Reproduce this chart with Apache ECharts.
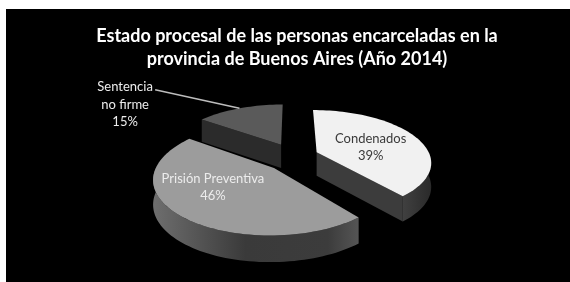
<!DOCTYPE html>
<html><head><meta charset="utf-8">
<script src="https://cdn.jsdelivr.net/npm/echarts@6/dist/echarts.min.js"></script>
<style>html,body{margin:0;padding:0;background:#fff}#c{width:570px;height:282px}</style>
</head><body><div id="c"></div>
<script>
// ---- data ----
const categories = ['Condenados', 'Prisión Preventiva', 'Sentencia\nno firme'];
const values = [39, 46, 15];
const titleLines = ['Estado procesal de las personas encarceladas en la', 'provincia de Buenos Aires (Año 2014)'];

// ---- layout / style ----
const FONT = 'Lato, "Open Sans", sans-serif';
const geo = {cx: 292.5, cy: 156.9, rx: 117, ry: 54, ex: 26.8, ey: 15.3, depth: 24, pcx: 292, pcy: 165, L: 300};
const sliceStyle = [
  {top: '#f1f1f1', wall: '#3c3c3c', arc: [[0, '#404040'], [1, '#2a2a2a']], text: '#3a3a3a', label: [54, -5]},
  {top: '#9c9c9c', wall: '#3a3a3a', arc: [[0, '#6e6e6e'], [0.45, '#3a3a3a'], [0.85, '#3c3c3c'], [1, '#555555']], text: '#ececec', label: [-61, 19]},
  {top: '#5a5a5a', wall: '#2b2b2b', arc: [[0, '#333'], [1, '#2b2b2b']], text: '#ececec', label: [-156, -40], leader: [30, -15]}
];

const total = values.reduce((a, b) => a + b, 0);
const starts = [];
{ let acc = 0; values.forEach(v => { starts.push(acc / total * 360); acc += v; }); }
const rad = d => d * Math.PI / 180;
// perspective: returns screen point; drop adds the wall height below it
function proj(x, y, drop) {
  const t = y - geo.pcy; const s = geo.L / (geo.L - t);
  return [geo.pcx + (x - geo.pcx) * s, geo.pcy + t * s + (drop ? geo.depth * Math.sqrt(s) : 0)];
}
function apexOf(i) {
  const a0 = starts[i], a1 = a0 + values[i] / total * 360, m = rad((a0 + a1) / 2);
  return [geo.cx + geo.ex * Math.sin(m), geo.cy - geo.ey * Math.cos(m)];
}
function ptOn(ap, deg, drop) {
  const r = rad(deg);
  return proj(ap[0] + geo.rx * Math.sin(r), ap[1] - geo.ry * Math.cos(r), drop);
}
function arcPts(ap, lo, hi, drop) {
  const pts = []; const n = Math.max(2, Math.ceil((hi - lo) / 2));
  for (let k = 0; k <= n; k++) pts.push(ptOn(ap, lo + (hi - lo) * k / n, drop));
  return pts;
}

function renderItem(params, api) {
  const i = params.dataIndex;
  const v = api.value(0);
  const a0 = starts[i], a1 = a0 + v / total * 360, mid = (a0 + a1) / 2;
  const ap = apexOf(i);
  const order = values.map((_, k) => k).sort((p, q) => apexOf(p)[1] - apexOf(q)[1]);
  const z = order.indexOf(i) * 10;
  const st = sliceStyle[i];
  const A = proj(ap[0], ap[1]), Ab = proj(ap[0], ap[1], true);
  const children = [];
  [[a0, a0 - 90], [a1, a1 + 90]].forEach(([ang, nrm]) => {
    if (Math.cos(rad(nrm)) < 0) {
      children.push({type: 'polygon', z2: z + 1,
        shape: {points: [A, ptOn(ap, ang), ptOn(ap, ang, true), Ab]},
        style: {fill: st.wall}});
    }
  });
  const lo = Math.max(a0, 90), hi = Math.min(a1, 270);
  if (hi > lo) {
    const topP = arcPts(ap, lo, hi, false), botP = arcPts(ap, lo, hi, true).reverse();
    children.push({type: 'polygon', z2: z + 2,
      shape: {points: topP.concat(botP)},
      style: {fill: {type: 'linear', x: 0, y: 0, x2: 1, y2: 0,
        colorStops: st.arc.map(c => ({offset: c[0], color: c[1]}))}}});
  }
  children.push({type: 'polygon', z2: z + 3,
    shape: {points: [A].concat(arcPts(ap, a0, a1, false))},
    style: {fill: st.top}});
  const pct = Math.round(v / total * 100) + '%';
  const lx = A[0] + st.label[0], ly = A[1] + st.label[1];
  children.push({type: 'text', z2: 100,
    style: {text: api.value(1) + '\n' + pct, x: lx, y: ly, fill: st.text,
      font: '13px ' + FONT, align: 'center', verticalAlign: 'middle', lineHeight: 17.5}});
  if (st.leader) {
    const P = ptOn(ap, mid);
    children.push({type: 'polyline', z2: 99,
      shape: {points: [[lx + st.leader[0], ly + st.leader[1]], P]},
      style: {stroke: '#bdbdbd', lineWidth: 1.5, fill: null}});
  }
  return {type: 'group', children};
}

const chart = echarts.init(document.getElementById('c'), null, {renderer: 'canvas'});
chart.setOption({
  backgroundColor: '#ffffff',
  animation: false,
  graphic: [{type: 'rect', z: -10, silent: true, shape: {x: 6, y: 9, width: 564, height: 273}, style: {fill: '#000'}}],
  title: {text: titleLines.join('\n'), left: 292, top: 20, textAlign: 'center',
    textStyle: {color: '#ffffff', fontSize: 18, fontWeight: 'bold', lineHeight: 23, fontFamily: FONT}},
  series: [{
    type: 'custom', coordinateSystem: 'none', renderItem,
    data: values.map((v, i) => ({value: [v, categories[i]], name: categories[i]}))
  }]
});
</script></body></html>
